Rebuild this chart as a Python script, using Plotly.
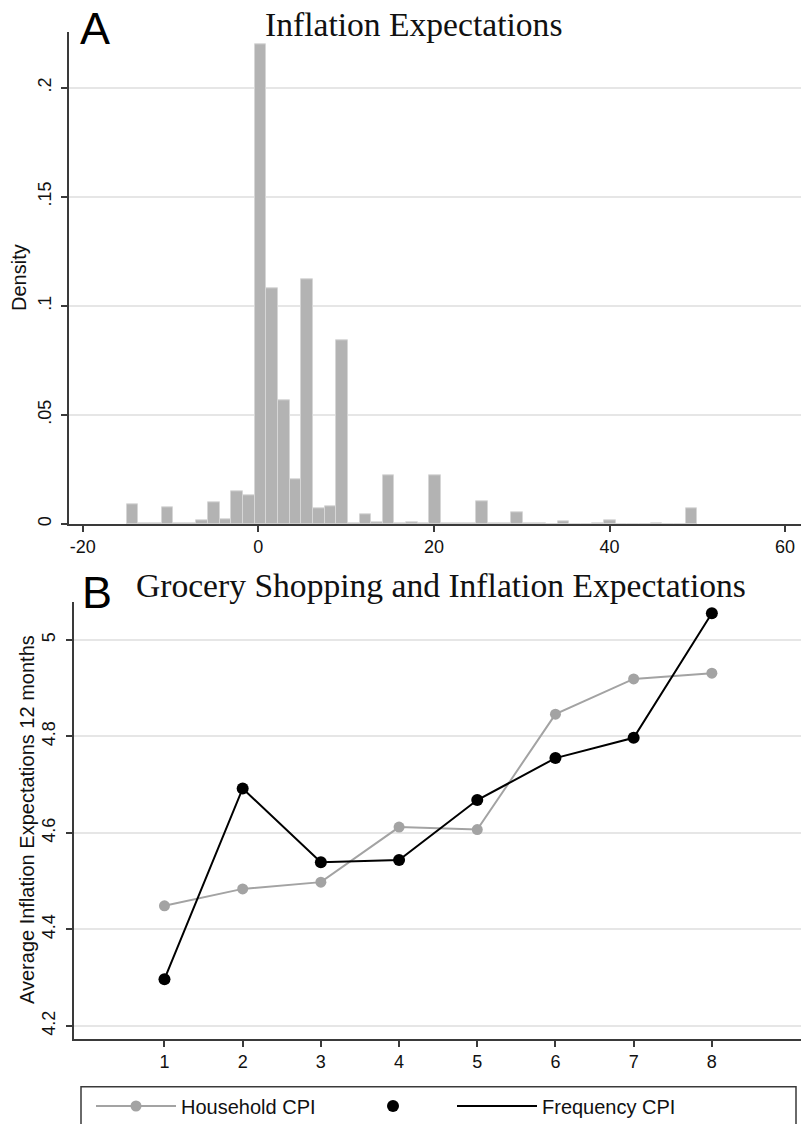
import plotly.graph_objects as go

# ---------------- data ----------------
# Panel A: histogram of inflation expectations (Stata-style density histogram)
bin_start = -15.0
bin_end = 50.0
n_bins = 49
density = [
    0.0092, 0.0002, 0.0004, 0.0078, 0.0002, 0.0004, 0.0015, 0.0098, 0.0021, 0.0148,
    0.0133, 0.2199, 0.1079, 0.0568, 0.0205, 0.1123, 0.0071, 0.0083, 0.0840, 0.0003,
    0.0044, 0.0007, 0.0222, 0.0002, 0.0007, 0.0001, 0.0222, 0.0003, 0.0001, 0.0001,
    0.0105, 0.0002, 0.0001, 0.0054, 0.0001, 0.0001, 0.0000, 0.0012, 0.0000, 0.0000,
    0.0001, 0.0016, 0.0000, 0.0000, 0.0000, 0.0005, 0.0000, 0.0000, 0.0074,
]
a_xticks = [-20, 0, 20, 40, 60]
a_xticklabels = ["-20", "0", "20", "40", "60"]
a_yticks = [0, 0.05, 0.1, 0.15, 0.2]
a_yticklabels = ["0", ".05", ".1", ".15", ".2"]

# Panel B: grocery shopping groups
groups = [1, 2, 3, 4, 5, 6, 7, 8]
household_cpi = [4.449, 4.484, 4.498, 4.612, 4.607, 4.846, 4.919, 4.931]
frequency_cpi = [4.297, 4.692, 4.539, 4.544, 4.668, 4.755, 4.797, 5.055]
b_yticks = [4.2, 4.4, 4.6, 4.8, 5.0]
b_yticklabels = ["4.2", "4.4", "4.6", "4.8", "5"]

bin_width = (bin_end - bin_start) / n_bins
bin_centers = [bin_start + bin_width * (i + 0.5) for i in range(n_bins)]

# ---------------- figure ----------------
W, H = 801, 1124
SANS = "Liberation Sans, Arial, Helvetica, sans-serif"
SERIF = "Liberation Serif, Times New Roman, serif"
AX = "#3a3a3a"
GRID = "#e6e6e6"

fig = go.Figure()

fig.add_trace(go.Bar(
    x=bin_centers, y=density, width=bin_width,
    marker=dict(color="#b3b3b3", line=dict(color="#d6d6d6", width=1)),
    xaxis="x", yaxis="y", showlegend=False, hoverinfo="x+y",
))

fig.add_trace(go.Scatter(
    x=groups, y=household_cpi, mode="lines+markers", name="Household CPI",
    line=dict(color="#a3a3a3", width=2), marker=dict(color="#a3a3a3", size=11),
    xaxis="x2", yaxis="y2", legend="legend",
))
fig.add_trace(go.Scatter(
    x=groups, y=frequency_cpi, mode="markers", name=" ",
    marker=dict(color="black", size=12),
    xaxis="x2", yaxis="y2", legend="legend2",
))
fig.add_trace(go.Scatter(
    x=groups, y=frequency_cpi, mode="lines", name="Frequency CPI",
    line=dict(color="black", width=2),
    xaxis="x2", yaxis="y2", legend="legend3",
))

def px_x(p):
    return p / W

def px_y(p):
    return 1 - p / H

axis_common = dict(
    showline=True, linecolor=AX, linewidth=1.5,
    ticks="outside", ticklen=6, tickwidth=1.5, tickcolor=AX,
    tickfont=dict(family=SANS, size=18, color="#111"),
    zeroline=False, automargin=False,
)

legend_common = dict(
    orientation="h", xanchor="left", yanchor="middle",
    xref="paper", yref="paper", y=px_y(1106),
    font=dict(family=SANS, size=20, color="#111"),
    bgcolor="rgba(0,0,0,0)", borderwidth=0,
)

fig.update_layout(
    template="none",
    width=W, height=H,
    margin=dict(l=0, r=0, t=0, b=0, autoexpand=False),
    paper_bgcolor="white", plot_bgcolor="white",
    bargap=0,
    xaxis=dict(domain=[px_x(69), 1], anchor="y", range=[-21.56, 61.81],
               tickvals=a_xticks, ticktext=a_xticklabels, showgrid=False, **axis_common),
    yaxis=dict(domain=[px_y(524), px_y(32.3)], anchor="x", range=[0, 0.2254],
               tickvals=a_yticks, ticktext=a_yticklabels, tickangle=-90, ticklabelstandoff=3,
               showgrid=True, gridcolor=GRID, gridwidth=1.5, **axis_common),
    xaxis2=dict(domain=[px_x(74), 1], anchor="y2", range=[-0.157, 9.14],
                tickvals=groups, showgrid=False, **axis_common),
    yaxis2=dict(domain=[px_y(1039), px_y(601.7)], anchor="x2", range=[4.173, 5.079],
                tickvals=b_yticks, ticktext=b_yticklabels, tickangle=-90, ticklabelstandoff=4,
                showgrid=True, gridcolor=GRID, gridwidth=1.5, **axis_common),
    showlegend=True,
    legend=dict(x=px_x(91), itemwidth=80, **legend_common),
    legend2=dict(x=px_x(373), **legend_common),
    legend3=dict(x=px_x(452), itemwidth=80, **legend_common),
)

# legend frame (extends below the picture as in the reference)
fig.add_shape(type="rect", xref="paper", yref="paper",
              x0=px_x(81), x1=px_x(796), y0=px_y(1160), y1=px_y(1086.7),
              line=dict(color=AX, width=1.5), fillcolor="rgba(0,0,0,0)", layer="below")

annotations = [
    dict(text="Inflation Expectations", x=px_x(413), y=px_y(25), font=dict(family=SERIF, size=33.6, color="#111")),
    dict(text="Grocery Shopping and Inflation Expectations", x=px_x(441), y=px_y(585),
         font=dict(family=SERIF, size=33.6, color="#111")),
    dict(text="A", x=px_x(95), y=px_y(28), font=dict(family=SANS, size=45, color="black")),
    dict(text="B", x=px_x(97), y=px_y(592), font=dict(family=SANS, size=45, color="black")),
    dict(text="Density", x=px_x(19), y=px_y(278), textangle=-90,
         font=dict(family=SANS, size=20, color="#111")),
    dict(text="Average Inflation Expectations 12 months", x=px_x(27), y=px_y(820), textangle=-90,
         font=dict(family=SANS, size=20, color="#111")),
]
for a in annotations:
    fig.add_annotation(xref="paper", yref="paper", showarrow=False,
                       xanchor="center", yanchor="middle", **a)

fig.write_html("out.html", config={"displayModeBar": False},
               post_script="document.body.style.margin='0px';")
